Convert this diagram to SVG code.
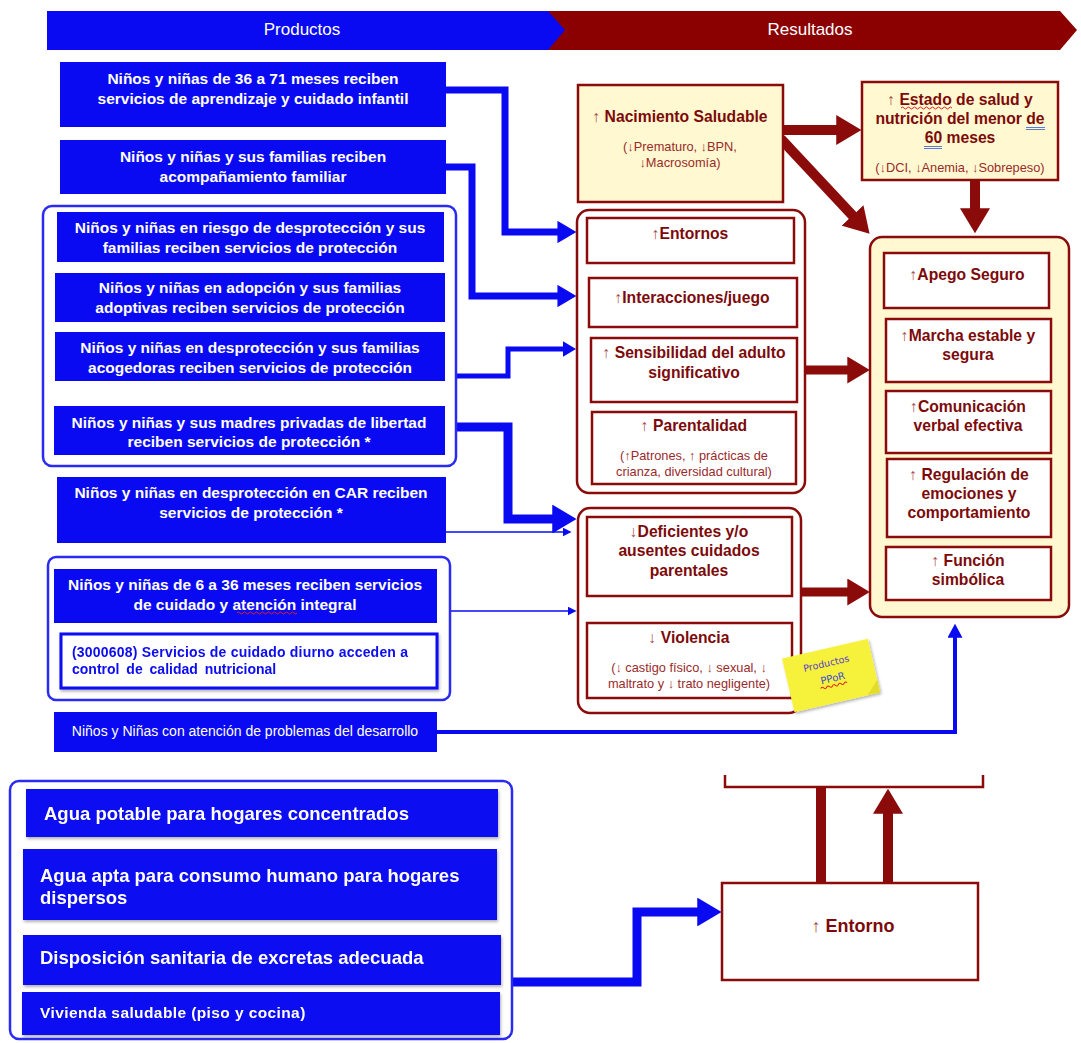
<svg xmlns="http://www.w3.org/2000/svg" width="1081" height="1043" viewBox="0 0 1081 1043">
  <style>
    .bx { fill: #0a0af2; }
    .bt { fill: #ffffff; font: bold 15.5px "Liberation Sans", Arial, sans-serif; text-anchor: middle; }
    .bt2 { fill: #ffffff; font: bold 18.5px "Liberation Sans", Arial, sans-serif; }
    .bt3 { fill: #ffffff; font: bold 15.5px "Liberation Sans", Arial, sans-serif; letter-spacing: 0.4px; }
    .gb { fill: #ffffff; stroke: #2a2af2; stroke-width: 2.5; }
    .rb { fill: #ffffff; stroke: #8b0b0b; stroke-width: 2.5; }
    .rc { fill: #fff8d0; stroke: #8b0b0b; stroke-width: 2.5; }
    .rt { fill: #7d0a0a; font: bold 15.7px "Liberation Sans", Arial, sans-serif; text-anchor: middle; }
    .rt2 { fill: #7d0a0a; font: bold 18px "Liberation Sans", Arial, sans-serif; text-anchor: middle; }
    .rs { fill: #9a2b2b; font: 12.8px "Liberation Sans", Arial, sans-serif; text-anchor: middle; }
    .ar { font-weight: normal; fill: #a84a4a; }
    .hd { fill: #ffffff; font: 17px "Liberation Sans", Arial, sans-serif; text-anchor: middle; }
    .cb { fill: none; stroke: #0a0af2; stroke-linejoin: miter; }
    .cr { fill: none; stroke: #8b0a0a; stroke-linejoin: miter; }
    .sq { fill: none; stroke: #e02020; stroke-width: 1; }
    .du { fill: none; stroke: #4a6ad8; stroke-width: 0.9; }
  </style>
  <defs>
    <marker id="arrB" viewBox="0 0 10 10" refX="0.3" refY="5" markerWidth="2.7" markerHeight="3.2" orient="auto" markerUnits="strokeWidth" preserveAspectRatio="none">
      <path d="M0,0 L10,5 L0,10 Z" fill="#0a0af2"/>
    </marker>
    <marker id="arrBt" viewBox="0 0 10 10" refX="0.5" refY="5" markerWidth="9" markerHeight="9" orient="auto" markerUnits="userSpaceOnUse" preserveAspectRatio="none">
      <path d="M0,0 L10,5 L0,10 Z" fill="#0a0af2"/>
    </marker>
    <marker id="arrBu" viewBox="0 0 10 10" refX="0.5" refY="5" markerWidth="14" markerHeight="15" orient="auto" markerUnits="userSpaceOnUse" preserveAspectRatio="none">
      <path d="M0,0 L10,5 L0,10 Z" fill="#0a0af2"/>
    </marker>
    <marker id="arrR" viewBox="0 0 10 10" refX="0.3" refY="5" markerWidth="2.5" markerHeight="3" orient="auto" markerUnits="strokeWidth" preserveAspectRatio="none">
      <path d="M0,0 L10,5 L0,10 Z" fill="#8b0a0a"/>
    </marker>
    <filter id="sh" x="-10%" y="-20%" width="120%" height="150%">
      <feDropShadow dx="1" dy="2" stdDeviation="1.6" flood-color="#000000" flood-opacity="0.3"/>
    </filter>
  </defs>

  <rect width="1081" height="1043" fill="#ffffff"/>

  <!-- column headers -->
  <g id="header">
    <polygon points="540,11 1060,11 1077,30 1060,50 540,50" fill="#8b0000"/>
    <polygon points="47,11 548,11 565,30 548,50 47,50" fill="#0a0af2"/>
    <text class="hd" x="302" y="35">Productos</text>
    <text class="hd" x="810" y="35">Resultados</text>
  </g>

  <!-- connectors -->
  <g id="connectors">
    <!-- products to intermediate results -->
    <path class="cb" stroke-width="7" d="M446,90 H505 V232 H558" marker-end="url(#arrB)"/>
    <path class="cb" stroke-width="7" d="M446,167 H472 V296 H558" marker-end="url(#arrB)"/>
    <path class="cb" stroke-width="5" d="M445,376 H508 V349 H563" marker-end="url(#arrB)"/>
    <path class="cb" stroke-width="9" d="M445,427 H508 V519 H553" marker-end="url(#arrB)"/>
    <path class="cb" stroke-width="1.5" d="M446,532 H563" marker-end="url(#arrBt)"/>
    <path class="cb" stroke-width="1.5" d="M450,611 H568" marker-end="url(#arrBt)"/>
    <path class="cb" stroke-width="4" d="M437,732 H955 V637" marker-end="url(#arrBu)"/>
    <!-- results chain -->
    <path class="cr" stroke-width="10" d="M783,130 H837" marker-end="url(#arrR)"/>
    <path class="cr" stroke-width="10" d="M781,139 L853,216" marker-end="url(#arrR)"/>
    <path class="cr" stroke-width="10" d="M975,180 V209" marker-end="url(#arrR)"/>
    <path class="cr" stroke-width="9" d="M805,370 H848" marker-end="url(#arrR)"/>
    <path class="cr" stroke-width="9" d="M801,592 H848" marker-end="url(#arrR)"/>
    <!-- lower panel -->
    <path class="cb" stroke-width="9" d="M512,982 H637 V912 H698" marker-end="url(#arrB)"/>
    <path class="cr" stroke-width="10" d="M821,883 V787"/>
    <path class="cr" stroke-width="10" d="M888,883 V813" marker-end="url(#arrR)"/>
  </g>

  <!-- product nodes -->
  <g id="p-aprendizaje">
    <rect class="bx" x="60" y="62" width="386" height="65"/>
    <text class="bt" x="253" y="84">Niños y niñas de 36 a 71 meses reciben</text>
    <text class="bt" x="253" y="104">servicios de aprendizaje y cuidado infantil</text>
  </g>
  <g id="p-acompanamiento">
    <rect class="bx" x="60" y="140" width="386" height="54"/>
    <text class="bt" x="253" y="162">Niños y niñas y sus familias reciben</text>
    <text class="bt" x="253" y="182">acompañamiento familiar</text>
  </g>
  <g id="p-proteccion">
    <rect class="gb" x="43" y="206" width="413" height="260" rx="9"/>
    <g id="p-riesgo">
      <rect class="bx" x="57" y="212" width="387" height="50"/>
      <text class="bt" x="250" y="233">Niños y niñas en riesgo de desprotección y sus</text>
      <text class="bt" x="250" y="253">familias reciben servicios de protección</text>
    </g>
    <g id="p-adopcion">
      <rect class="bx" x="55" y="273" width="390" height="49"/>
      <text class="bt" x="250" y="293">Niños y niñas en adopción y sus familias</text>
      <text class="bt" x="250" y="313">adoptivas reciben servicios de protección</text>
    </g>
    <g id="p-acogedoras">
      <rect class="bx" x="55" y="332" width="390" height="49"/>
      <text class="bt" x="250" y="353">Niños y niñas en desprotección y sus familias</text>
      <text class="bt" x="250" y="373">acogedoras reciben servicios de protección</text>
    </g>
    <g id="p-madres">
      <rect class="bx" x="54" y="406" width="391" height="49"/>
      <text class="bt" x="249" y="428">Niños y niñas y sus madres privadas de libertad</text>
      <text class="bt" x="249" y="447">reciben servicios de protección *</text>
    </g>
  </g>
  <g id="p-car">
    <rect class="bx" x="57" y="477" width="389" height="66"/>
    <text class="bt" x="251" y="498">Niños y niñas en desprotección en CAR reciben</text>
    <text class="bt" x="251" y="518">servicios de protección *</text>
  </g>
  <g id="p-cuidado">
    <rect class="gb" x="48" y="557" width="402" height="143" rx="8"/>
    <g id="p-6a36">
      <rect class="bx" x="54" y="569" width="383" height="54"/>
      <text class="bt" x="245" y="590">Niños y niñas de 6 a 36 meses reciben servicios</text>
      <text class="bt" x="245" y="610">de cuidado y atención integral</text>
      <path class="sq" d="M237,613 q1.5,-2 3,0 t3,0 t3,0 t3,0 t3,0 t3,0 t3,0 t3,0 t3,0 t3,0 t3,0 t3,0 t3,0 t3,0 t3,0 t3,0 t3,0 t3,0 t3,0 t3,0"/>
    </g>
    <g id="p-3000608" filter="url(#sh)">
      <rect x="61" y="634" width="376" height="54" fill="#ffffff" stroke="#0a0af2" stroke-width="3"/>
      <text x="72" y="657" textLength="336" lengthAdjust="spacing" fill="#0a0af2" font-family="'Liberation Sans', Arial, sans-serif" font-size="14" font-weight="bold">(3000608) Servicios de cuidado diurno acceden a</text>
      <text x="72" y="674" fill="#0a0af2" font-family="'Liberation Sans', Arial, sans-serif" font-size="14" font-weight="bold" word-spacing="3">control de calidad nutricional</text>
    </g>
  </g>
  <g id="p-desarrollo">
    <rect class="bx" x="54" y="712" width="383" height="40"/>
    <text x="245" y="736" fill="#ffffff" text-anchor="middle" font-family="'Liberation Sans', Arial, sans-serif" font-size="14">Niños y Niñas con atención de problemas del desarrollo</text>
  </g>

  <!-- intermediate results -->
  <g id="r-nacimiento">
    <rect class="rc" x="578" y="85" width="205" height="117"/>
    <text class="rt" x="680" y="122"><tspan class="ar">↑ </tspan>Nacimiento Saludable</text>
    <text class="rs" x="680" y="151">(↓Prematuro, ↓BPN,</text>
    <text class="rs" x="680" y="167">↓Macrosomía)</text>
  </g>
  <g id="r-estado">
    <rect class="rc" x="862" y="82" width="196" height="98"/>
    <text class="rt" x="960" y="105"><tspan class="ar">↑ </tspan>Estado de salud y</text>
    <text class="rt" x="960" y="124">nutrición del menor de</text>
    <text class="rt" x="960" y="143">60 meses</text>
    <text class="rs" x="960" y="172">(↓DCI, ↓Anemia, ↓Sobrepeso)</text>
    <path class="sq" d="M901,108 q1.5,-2 3,0 t3,0 t3,0 t3,0 t3,0 t3,0 t3,0 t3,0 t3,0 t3,0 t3,0 t3,0 t3,0 t3,0 t3,0 t3,0 t3,0"/>
    <path class="du" d="M1026,127.5 H1045 M1026,129.5 H1045 M924,146.5 H942 M924,148.5 H942"/>
  </g>
  <g id="r-entornos-grupo">
    <rect class="rb" x="577" y="210" width="228" height="283" rx="12"/>
    <g id="r-entornos">
      <rect class="rb" x="587" y="218" width="207" height="45"/>
      <text class="rt" x="690" y="239"><tspan class="ar">↑</tspan>Entornos</text>
    </g>
    <g id="r-interacciones">
      <rect class="rb" x="589" y="278" width="208" height="49"/>
      <text class="rt" x="692" y="303"><tspan class="ar">↑</tspan>Interacciones/juego</text>
    </g>
    <g id="r-sensibilidad">
      <rect class="rb" x="591" y="338" width="206" height="64"/>
      <text class="rt" x="694" y="358"><tspan class="ar">↑ </tspan>Sensibilidad del adulto</text>
      <text class="rt" x="694" y="378">significativo</text>
    </g>
    <g id="r-parentalidad">
      <rect class="rb" x="592" y="412" width="204" height="72"/>
      <text class="rt" x="694" y="431"><tspan class="ar">↑ </tspan>Parentalidad</text>
      <text class="rs" x="694" y="460">(↑Patrones, ↑ prácticas de</text>
      <text class="rs" x="694" y="476">crianza, diversidad cultural)</text>
    </g>
  </g>
  <g id="r-cuidados-grupo">
    <rect class="rb" x="578" y="508" width="223" height="205" rx="12"/>
    <g id="r-deficientes">
      <rect class="rb" x="587" y="517" width="205" height="79"/>
      <text class="rt" x="689" y="537"><tspan class="ar">↓</tspan>Deficientes y/o</text>
      <text class="rt" x="689" y="556">ausentes cuidados</text>
      <text class="rt" x="689" y="576">parentales</text>
    </g>
    <g id="r-violencia">
      <rect class="rb" x="587" y="623" width="205" height="75"/>
      <text class="rt" x="689" y="643"><tspan class="ar">↓ </tspan>Violencia</text>
      <text class="rs" x="689" y="672">(↓ castigo físico, ↓ sexual, ↓</text>
      <text class="rs" x="689" y="688">maltrato y ↓ trato negligente)</text>
    </g>
  </g>

  <!-- final results -->
  <g id="r-desarrollo-grupo">
    <rect class="rc" x="870" y="237" width="199" height="380" rx="12"/>
    <g id="r-apego">
      <rect class="rb" x="884" y="253" width="165" height="55"/>
      <text class="rt" x="967" y="280"><tspan class="ar">↑</tspan>Apego Seguro</text>
    </g>
    <g id="r-marcha">
      <rect class="rb" x="886" y="319" width="165" height="63"/>
      <text class="rt" x="968" y="341"><tspan class="ar">↑</tspan>Marcha estable y</text>
      <text class="rt" x="968" y="360">segura</text>
    </g>
    <g id="r-comunicacion">
      <rect class="rb" x="886" y="391" width="165" height="62"/>
      <text class="rt" x="968" y="412"><tspan class="ar">↑</tspan>Comunicación</text>
      <text class="rt" x="968" y="431">verbal efectiva</text>
    </g>
    <g id="r-regulacion">
      <rect class="rb" x="887" y="459" width="164" height="78"/>
      <text class="rt" x="969" y="480"><tspan class="ar">↑ </tspan>Regulación de</text>
      <text class="rt" x="969" y="499">emociones y</text>
      <text class="rt" x="969" y="518">comportamiento</text>
    </g>
    <g id="r-funcion">
      <rect class="rb" x="886" y="547" width="165" height="53"/>
      <text class="rt" x="968" y="566"><tspan class="ar">↑ </tspan>Función</text>
      <text class="rt" x="968" y="585">simbólica</text>
    </g>
  </g>

  <!-- sticky note -->
  <g id="nota" transform="rotate(-13 831 675)">
    <rect x="787" y="648" width="88" height="55" fill="#f6f23a" filter="url(#sh)"/>
    <polygon points="875,690 875,703 862,703" fill="#e2dc2a"/>
    <text x="829" y="666" text-anchor="middle" fill="#5a3cc8" font-family="'DejaVu Sans', sans-serif" font-size="9.5">Productos</text>
    <text x="832" y="682" text-anchor="middle" fill="#3b4bd8" font-family="'DejaVu Sans', sans-serif" font-size="10">PPoR</text>
    <path class="sq" stroke="#e06020" d="M818,686 q1.5,-2 3,0 t3,0 t3,0 t3,0 t3,0 t3,0 t3,0 t3,0 t3,0"/>
  </g>

  <!-- lower panel: housing and sanitation products -->
  <g id="p-saneamiento">
    <rect class="gb" x="10" y="781" width="502" height="258" rx="9"/>
    <g id="p-agua-potable" filter="url(#sh)">
      <rect class="bx" x="26" y="789" width="472" height="48"/>
      <text class="bt2" x="44" y="820">Agua potable para hogares concentrados</text>
    </g>
    <g id="p-agua-apta" filter="url(#sh)">
      <rect class="bx" x="23" y="849" width="474" height="71"/>
      <text class="bt2" x="40" y="882">Agua apta para consumo humano para hogares</text>
      <text class="bt2" x="40" y="904">dispersos</text>
    </g>
    <g id="p-excretas" filter="url(#sh)">
      <rect class="bx" x="23" y="935" width="478" height="50"/>
      <text class="bt2" x="40" y="964">Disposición sanitaria de excretas adecuada</text>
    </g>
    <g id="p-vivienda" filter="url(#sh)">
      <rect class="bx" x="22" y="992" width="478" height="43"/>
      <text class="bt3" x="40" y="1018">Vivienda saludable (piso y cocina)</text>
    </g>
  </g>

  <g id="r-entorno-sup">
    <path class="cr" stroke-width="2.5" d="M725,775 V787 H983 V775"/>
  </g>
  <g id="r-entorno">
    <rect class="rb" x="722" y="883" width="256" height="97"/>
    <text class="rt2" x="853" y="932"><tspan class="ar">↑ </tspan>Entorno</text>
  </g>
</svg>
